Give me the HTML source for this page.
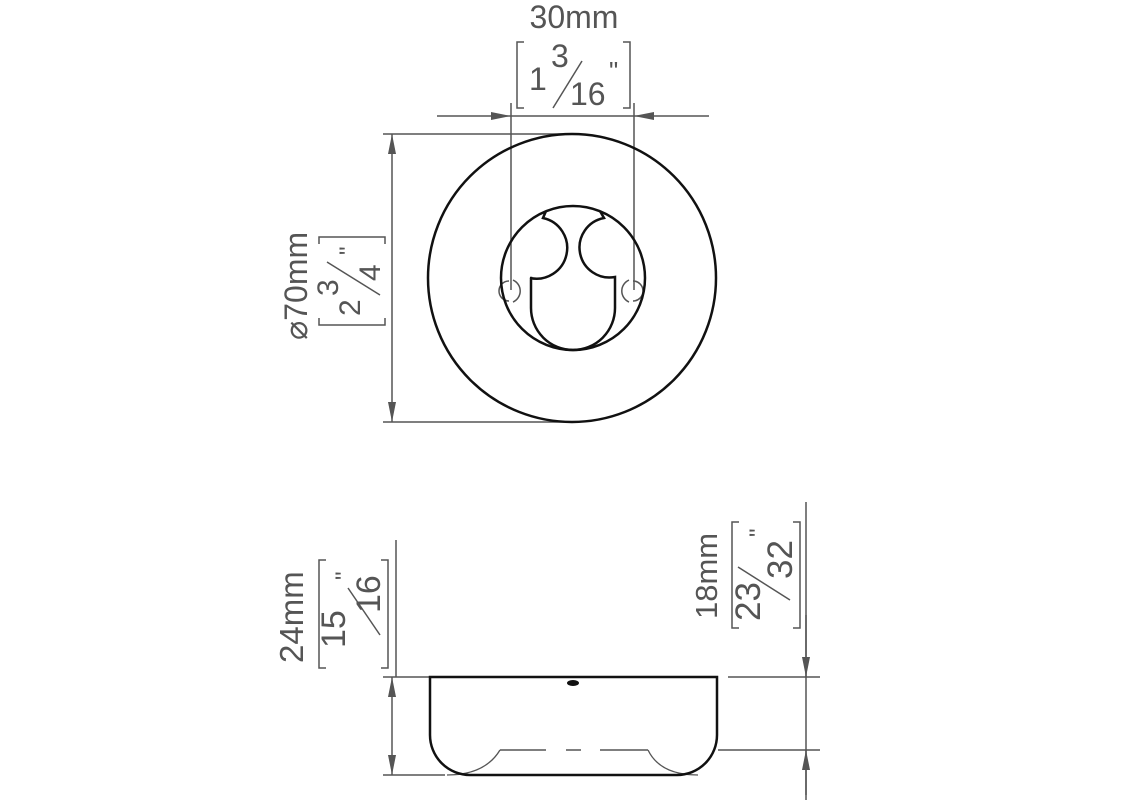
<!DOCTYPE html>
<html><head><meta charset="utf-8"><style>
html,body{margin:0;padding:0;background:#fff;}
svg{display:block;}
text{font-family:"Liberation Sans",sans-serif;fill:#555;}
</style></head><body>
<svg width="1130" height="800" viewBox="0 0 1130 800" xmlns="http://www.w3.org/2000/svg">
<defs>
<marker id="a" viewBox="0 0 20 8" refX="20" refY="4" markerWidth="20" markerHeight="8" markerUnits="userSpaceOnUse" orient="auto"><path d="M0,0 L20,4 L0,8 z" fill="#555"/></marker>
</defs>
<g stroke="#555" stroke-width="1.5" fill="none">
<line x1="511" y1="103" x2="511" y2="290"/>
<line x1="634" y1="103" x2="634" y2="290"/>
<line x1="437" y1="116" x2="511" y2="116" marker-end="url(#a)"/>
<line x1="709" y1="116" x2="634" y2="116" marker-end="url(#a)"/>
<line x1="511" y1="116" x2="634" y2="116"/>
<line x1="383" y1="134" x2="572" y2="134"/>
<line x1="383" y1="422" x2="572" y2="422"/>
<line x1="392" y1="278" x2="392" y2="134" marker-end="url(#a)"/>
<line x1="392" y1="278" x2="392" y2="422" marker-end="url(#a)"/>
<path d="M524,42 H517 V108 H524 M623,42 H630 V108 H623"/>
<path d="M319,244 V237 H385 V244 M319,318 V325 H385 V318"/>
<path d="M509,281 A10,10 0 1,0 509,301"/>
<path d="M513,280 A12,12 0 0,1 513,302"/>
<path d="M633,281 A10,10 0 1,1 633,301"/>
<path d="M629,280 A12,12 0 0,0 629,302"/>
<line x1="396" y1="540" x2="396" y2="677"/>
<line x1="383" y1="677" x2="430" y2="677"/>
<line x1="383" y1="775" x2="445" y2="775"/>
<line x1="392" y1="726" x2="392" y2="677" marker-end="url(#a)"/>
<line x1="392" y1="726" x2="392" y2="775" marker-end="url(#a)"/>
<path d="M326,560 H319 V668 H326 M381,560 H388 V668 H381"/>
<line x1="806" y1="502" x2="806" y2="800"/>
<line x1="806" y1="615" x2="806" y2="677" marker-end="url(#a)"/>
<line x1="806" y1="795" x2="806" y2="750" marker-end="url(#a)"/>
<line x1="728" y1="677" x2="820" y2="677"/>
<line x1="718" y1="750" x2="820" y2="750"/>
<path d="M739,522 H732 V628 H739 M793,522 H800 V628 H793"/>
<path d="M500,750 H546 M566,750 H581 M600,750 H648"/>
<path d="M447,775 Q485,775 500,750 M648,750 Q660,775 698,775" stroke-width="1.3"/>
<line x1="553" y1="108" x2="582" y2="61"/>
<line x1="327" y1="262" x2="380" y2="295"/>
<line x1="348" y1="588" x2="380" y2="635"/>
<line x1="738" y1="567" x2="790" y2="600"/>
</g>
<g stroke="#111" stroke-width="2.5" fill="none">
<circle cx="572" cy="278" r="144"/>
<circle cx="573" cy="278" r="72"/>
<path d="M546,211 L543,218 A30,30 0 0,1 530,278 L531,278 L531,308 A42,42 0 0,0 615,308 L615,277 A30,30 0 0,1 604,218 L600,211"/>
<path d="M430,677 H717 V735 A40,40 0 0,1 677,775 H470 A40,40 0 0,1 430,735 Z"/>
</g>
<ellipse cx="573" cy="683" rx="6" ry="3" fill="#111"/>
<text x="574" y="28" font-size="32" text-anchor="middle">30mm</text>
<text x="529" y="90" font-size="32">1</text>
<text x="551" y="67" font-size="32">3</text>
<text x="570" y="105" font-size="32">16</text>
<text x="609" y="80" font-size="26">"</text>

<text transform="translate(307,340) rotate(-90)" font-size="32">⌀70mm</text>
<text transform="translate(360,316) rotate(-90)" font-size="30">2</text>
<text transform="translate(338,296) rotate(-90)" font-size="30">3</text>
<text transform="translate(380,281) rotate(-90)" font-size="30">4</text>
<text transform="translate(356,255) rotate(-90)" font-size="24">"</text>

<text transform="translate(303,663) rotate(-90)" font-size="33">24mm</text>
<text transform="translate(345,648) rotate(-90)" font-size="34">15</text>
<text transform="translate(380,613) rotate(-90)" font-size="34">16</text>
<text transform="translate(352,580) rotate(-90)" font-size="24">"</text>

<text transform="translate(717,619) rotate(-90)" font-size="31">18mm</text>
<text transform="translate(760,621) rotate(-90)" font-size="35">23</text>
<text transform="translate(792,579) rotate(-90)" font-size="35">32</text>
<text transform="translate(766,537) rotate(-90)" font-size="24">"</text>
</svg>
</body></html>
